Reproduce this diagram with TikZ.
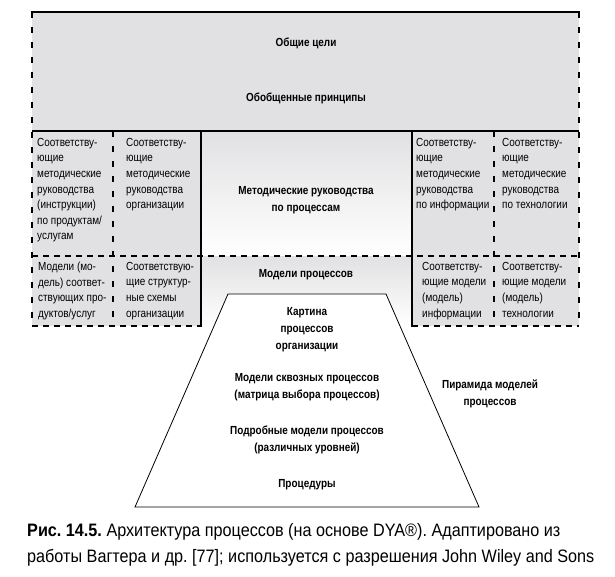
\documentclass[tikz,border=0pt]{standalone}
\usepackage{fontspec}
\setmainfont{Liberation Sans}[FakeStretch=0.85]
\newfontfamily\captionfont{Liberation Sans}[FakeStretch=0.9]
\frenchspacing
\definecolor{boxgray}{HTML}{E1E1E3}
\tikzset{
  thickline/.style={line width=2.6pt},
  hdashline/.style={line width=2.2pt, dash pattern=on 6pt off 5pt},
  vdashline/.style={line width=2.2pt, dash pattern=on 6pt off 9pt},
  celltext/.style={anchor=north west, inner sep=0pt, align=left, font=\fontsize{11.7}{15.6}\selectfont},
  headtext/.style={inner sep=0pt, align=center, font=\bfseries\fontsize{11.7}{17}\selectfont},
}
\begin{document}
\begin{tikzpicture}[x=1pt,y=-1pt]
		\useasboundingbox (0,0) rectangle (615,576);
		% фон блоков
		\fill[boxgray] (32,12) rectangle (579,326);
		\shade[top color=boxgray,bottom color=white] (201,131) rectangle (412,256);
		\shade[top color=boxgray,bottom color=white] (201,256) rectangle (412,326);
		% рамки
		\draw[vdashline] (32,12) -- (32,326) (579,12) -- (579,326) (113,131) -- (113,326) (494,131) -- (494,326);
		\draw[hdashline] (32,256) -- (579,256) (32,326) -- (201,326) (412,326) -- (579,326);
		\draw[thickline] (30.7,12) -- (580.3,12) (32,131) -- (579,131) (201,131) -- (201,327) (412,131) -- (412,327);
		% пирамида
		\draw[line width=0.8pt,fill=white] (228,294) -- (386,294) -- (479,507) -- (135,507) -- cycle;
		\node[headtext] (goals) at (306,43) {Общие цели};
		\node[headtext] (principles) at (306,98) {Обобщенные принципы};
		\node[headtext] (guides) at (306,200) {Методические руководства\\по процессам};
		\node[headtext] (models) at (306,275) {Модели процессов};
		\node[celltext] (guideprod) at (37,138) {Соответству-\\ющие\\методические\\руководства\\(инструкции)\\по продуктам/\\услугам};
		\node[celltext] (guideorg) at (126,138) {Соответству-\\ющие\\методические\\руководства\\организации};
		\node[celltext] (guideinfo) at (416,138) {Соответству-\\ющие\\методические\\руководства\\по информации};
		\node[celltext] (guidetech) at (502,138) {Соответству-\\ющие\\методические\\руководства\\по технологии};
		\node[celltext] (modelprod) at (38,262) {Модели (мо-\\дель) соответ-\\ствующих про-\\дуктов/услуг};
		\node[celltext] (modelorg) at (126,262) {Соответствую-\\щие структур-\\ные схемы\\организации};
		\node[celltext] (modelinfo) at (422,262) {Соответству-\\ющие модели\\(модель)\\информации};
		\node[celltext] (modeltech) at (502,262) {Соответству-\\ющие модели\\(модель)\\технологии};
		\node[headtext] (picture) at (307,330) {Картина\\процессов\\организации};
		\node[headtext] (endtoend) at (307,387.5) {Модели сквозных процессов\\(матрица выбора процессов)};
		\node[headtext] (detailed) at (307,439.5) {Подробные модели процессов\\(различных уровней)};
		\node[headtext] (procedures) at (307,485) {Процедуры};
		\node[headtext] (pyramid) at (490,393.5) {Пирамида моделей\\процессов};
		\node[anchor=north west,inner sep=0pt,align=left,font=\captionfont\fontsize{18}{26}\selectfont] (caption) at (27,523) {\textbf{Рис. 14.5.}\ Архитектура процессов (на основе DYA®). Адаптировано из\\работы Вагтера и др. [77]; используется с разрешения John Wiley and Sons};
		\end{tikzpicture}
\end{document}
